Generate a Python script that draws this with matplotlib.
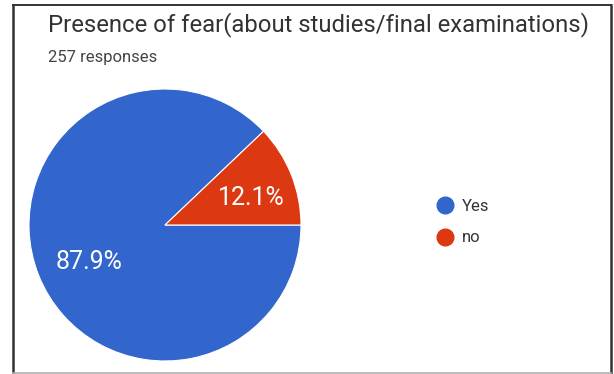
import matplotlib.pyplot as plt
from matplotlib.lines import Line2D

# survey answers (share of responses, %)
labels = ["Yes", "no"]
shares = [87.9, 12.1]
colors = ["#3366cc", "#dc3912"]
title = "Presence of fear(about studies/final examinations)"
n_responses = 257

W, H = 614, 374
fig = plt.figure(figsize=(W / 100, H / 100), dpi=100)
fig.patch.set_facecolor("white")


def px(x, y):
    """pixel coords (origin top-left) -> figure fraction"""
    return x / W, 1 - y / H


# ── card border: dark on three sides, light along the bottom ────────────────
for (x0, y0), (x1, y1), c, lw in [
    ((13, 5), (13, 373), "#333333", 1.8),
    ((13, 5), (611, 5), "#333333", 1.4),
    ((611, 5), (611, 373), "#333333", 1.8),
    ((13, 373), (611, 373), "#b0b0b0", 1.2),
]:
    fig.add_artist(Line2D(*zip(px(x0, y0), px(x1, y1)),
                          color=c, linewidth=lw, transform=fig.transFigure))

# ── header ──────────────────────────────────────────────────────────────────
fig.text(*px(48, 31), title, fontsize=17.2, family="Roboto",
         color="#333333", va="baseline", ha="left")
fig.text(*px(48, 62), f"{n_responses} responses", fontsize=12,
         family="Roboto", color="#444444", va="baseline", ha="left")

# ── pie ─────────────────────────────────────────────────────────────────────
cx, cy, r = 165, 225, 136
ax = fig.add_axes([(cx - r) / W, (H - cy - r) / H, 2 * r / W, 2 * r / H])
wedges, _, autotexts = ax.pie(
    shares, colors=colors, startangle=0, counterclock=False,
    autopct="%.1f%%", pctdistance=0.64,
    wedgeprops=dict(edgecolor="white", linewidth=0.8),
    textprops=dict(color="white", fontsize=18, family="Roboto"),
)
# nudge the percentage labels a little right and down
for t in autotexts:
    x, y = t.get_position()
    t.set_position((x + 5 / r, y - 5 / r))
ax.set_xlim(-1, 1)
ax.set_ylim(-1, 1)
ax.set_aspect("equal")
ax.axis("off")

# ── legend ──────────────────────────────────────────────────────────────────
handles = [Line2D([], [], marker="o", linestyle="", markersize=12,
                  markerfacecolor=c, markeredgecolor=c) for c in colors]
fig.legend(handles, labels, loc="center left",
           bbox_to_anchor=px(413, 222), frameon=False,
           prop=dict(family="Roboto", size=12), labelspacing=1.0,
           handletextpad=0.05, labelcolor="#333333")

fig.savefig("out.png", dpi=100)
